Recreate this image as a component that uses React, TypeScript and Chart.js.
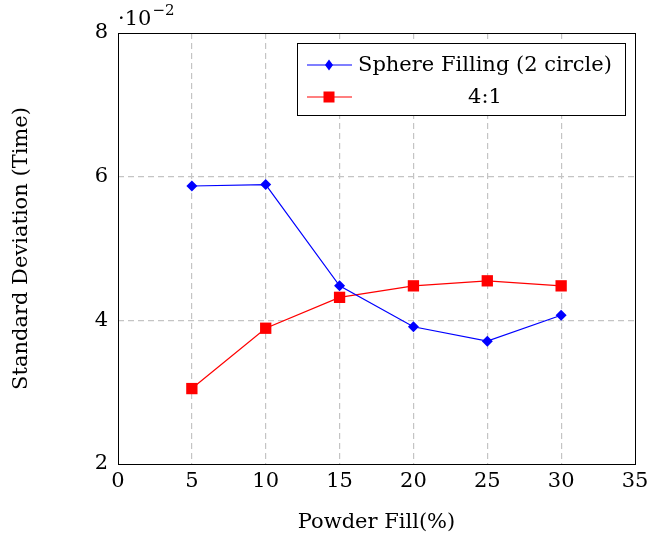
import React, { useEffect, useRef } from "react";
import { Chart, registerables } from "chart.js";

Chart.register(...registerables);

const xValues = [5, 10, 15, 20, 25, 30];
const sphereFilling = [5.87, 5.89, 4.48, 3.91, 3.71, 4.07];
const ratio41 = [3.05, 3.89, 4.32, 4.48, 4.55, 4.48];
const seriesNames = ["Sphere Filling (2 circle)", "4:1"];
const xTitle = "Powder Fill(%)";
const yTitle = "Standard Deviation (Time)";

const FONT = "'DejaVu Serif', serif";
const FS = 21;

const overlayPlugin = {
  id: "overlay",
  afterDraw(chart: any) {
    const ctx = chart.ctx as CanvasRenderingContext2D;
    const a = chart.chartArea;
    ctx.save();
    ctx.strokeStyle = "#000";
    ctx.lineWidth = 1;
    ctx.setLineDash([]);
    ctx.strokeRect(Math.round(a.left) + 0.5, Math.round(a.top) + 0.5, Math.round(a.right - a.left), Math.round(a.bottom - a.top));

    ctx.fillStyle = "#000";
    ctx.textBaseline = "alphabetic";
    ctx.textAlign = "left";
    ctx.font = `${FS}px ${FONT}`;
    const base = "·10";
    ctx.fillText(base, a.left, a.top - 8);
    const w = ctx.measureText(base).width;
    ctx.font = `${Math.round(FS * 0.7)}px ${FONT}`;
    ctx.fillText("−2", a.left + w + 1, a.top - 18);

    ctx.font = `${FS}px ${FONT}`;
    ctx.textAlign = "center";
    ctx.textBaseline = "middle";
    ctx.fillText(xTitle, (a.left + a.right) / 2, 523);
    ctx.save();
    ctx.translate(22, (a.top + a.bottom) / 2);
    ctx.rotate(-Math.PI / 2);
    ctx.fillText(yTitle, 0, 0);
    ctx.restore();

    const bw = 328, bh = 72;
    const bx = Math.round(a.right - 10 - bw), by = Math.round(a.top + 10);
    ctx.fillStyle = "#fff";
    ctx.fillRect(bx, by, bw, bh);
    ctx.strokeStyle = "#000";
    ctx.strokeRect(bx + 0.5, by + 0.5, bw, bh);
    const rows = [by + 22, by + 54];
    const colors = ["#0000ff", "#ff0000"];
    const textLeft = bx + 61;
    ctx.font = `${FS}px ${FONT}`;
    const w0 = ctx.measureText(seriesNames[0]).width;
    rows.forEach((ry, i) => {
      ctx.strokeStyle = colors[i];
      ctx.lineWidth = 1.2;
      ctx.beginPath();
      ctx.moveTo(bx + 10, ry);
      ctx.lineTo(bx + 55, ry);
      ctx.stroke();
      ctx.fillStyle = colors[i];
      const cx = bx + 32;
      if (i === 0) {
        ctx.beginPath();
        ctx.moveTo(cx, ry - 5.5);
        ctx.lineTo(cx + 4, ry);
        ctx.lineTo(cx, ry + 5.5);
        ctx.lineTo(cx - 4, ry);
        ctx.closePath();
        ctx.fill();
      } else {
        ctx.fillRect(cx - 5.5, ry - 5.5, 11, 11);
      }
      ctx.fillStyle = "#000";
      ctx.textBaseline = "middle";
      if (i === 0) {
        ctx.textAlign = "left";
        ctx.fillText(seriesNames[i], textLeft, ry + 1);
      } else {
        ctx.textAlign = "center";
        ctx.fillText(seriesNames[i], textLeft + w0 / 2, ry + 1);
      }
    });
    ctx.restore();
  },
};

export default function App() {
  const ref = useRef<HTMLCanvasElement>(null);
  useEffect(() => {
    document.body.style.margin = "0";
    const canvas = ref.current!;
    const chart = new Chart(canvas, {
      type: "line",
      data: {
        datasets: [
          {
            label: seriesNames[0],
            data: xValues.map((x, i) => ({ x, y: sphereFilling[i] })),
            borderColor: "#0000ff",
            backgroundColor: "#0000ff",
            borderWidth: 1.2,
            pointStyle: "rectRot",
            pointRadius: 5.5,
            pointBorderWidth: 0,
            tension: 0,
          },
          {
            label: seriesNames[1],
            data: xValues.map((x, i) => ({ x, y: ratio41[i] })),
            borderColor: "#ff0000",
            backgroundColor: "#ff0000",
            borderWidth: 1.2,
            pointStyle: "rect",
            pointRadius: 8,
            pointBorderWidth: 0,
            tension: 0,
          },
        ],
      },
      options: {
        responsive: false,
        animation: false,
        layout: { padding: { top: 33, right: 12, left: 0, bottom: 0 } },
        plugins: { legend: { display: false }, tooltip: { enabled: false } },
        scales: {
          x: {
            type: "linear",
            min: 0,
            max: 35,
            afterFit: (s: any) => { s.height = 73; s.paddingLeft = 0; s.paddingRight = 0; },
            ticks: { stepSize: 5, color: "#000", padding: 5, font: { family: FONT, size: FS } },
            grid: {
              drawTicks: false,
              color: (c: any) => (c.tick && (c.tick.value === 0 || c.tick.value === 35) ? "rgba(0,0,0,0)" : "#c4c4c4"),
              lineWidth: 1.2,
            },
            border: { display: false, dash: [6, 4] },
          },
          y: {
            type: "linear",
            min: 2,
            max: 8,
            afterFit: (s: any) => { s.width = 118; s.paddingTop = 0; s.paddingBottom = 0; },
            ticks: { stepSize: 2, color: "#000", padding: 10, font: { family: FONT, size: FS } },
            grid: {
              drawTicks: false,
              color: (c: any) => (c.tick && (c.tick.value === 2 || c.tick.value === 8) ? "rgba(0,0,0,0)" : "#c4c4c4"),
              lineWidth: 1.2,
            },
            border: { display: false, dash: [6, 4] },
          },
        },
      },
      plugins: [overlayPlugin],
    });
    return () => chart.destroy();
  }, []);
  return <canvas ref={ref} width={647} height={537} style={{ display: "block" }} />;
}
